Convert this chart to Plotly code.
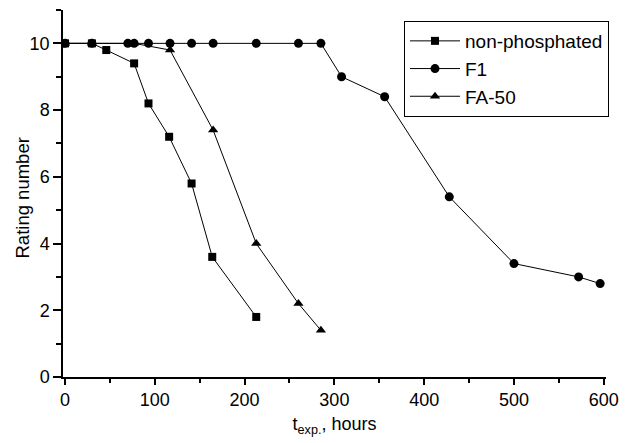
import plotly.graph_objects as go

np_x = [0, 30, 46, 77, 93, 116, 141, 164, 213]
np_y = [10, 10, 9.8, 9.4, 8.2, 7.2, 5.8, 3.6, 1.8]

f1_x = [0, 30, 70, 77, 93, 117, 141, 165, 213, 260, 285, 308, 356, 428, 500, 572, 596]
f1_y = [10, 10, 10, 10, 10, 10, 10, 10, 10, 10, 10, 9.0, 8.4, 5.4, 3.4, 3.0, 2.8]

fa_x = [0, 30, 77, 117, 165, 213, 260, 285]
fa_y = [10, 10, 10, 9.8, 7.4, 4.0, 2.2, 1.4]

names = ["non-phosphated", "F1", "FA-50"]
x_title = "t<sub>exp.</sub>, hours"
y_title = "Rating number"

fig = go.Figure()
fig.add_trace(go.Scatter(x=np_x, y=np_y, name=names[0], mode="lines+markers",
                         line=dict(color="black", width=1),
                         marker=dict(symbol="square", size=8, color="black")))
fig.add_trace(go.Scatter(x=f1_x, y=f1_y, name=names[1], mode="lines+markers",
                         line=dict(color="black", width=1),
                         marker=dict(symbol="circle", size=9, color="black")))
fig.add_trace(go.Scatter(x=fa_x, y=fa_y, name=names[2], mode="lines+markers",
                         line=dict(color="black", width=1),
                         marker=dict(symbol="triangle-up", size=9, color="black")))

axis_common = dict(showline=True, linecolor="black", linewidth=1.5, showgrid=False,
                   zeroline=False, ticks="outside", tickcolor="black",
                   tickwidth=1.5, tickfont=dict(size=18, color="black"))

fig.update_xaxes(range=[-2.2, 602.5], dtick=100, tick0=0, ticklen=6,
                 minor=dict(dtick=50, ticks="outside", ticklen=4, tickcolor="black", tickwidth=1.5),
                 title=dict(text=x_title, font=dict(size=18, color="black"), standoff=8),
                 **axis_common)
fig.update_yaxes(range=[0, 11], dtick=2, tick0=0, ticklen=8,
                 minor=dict(dtick=1, ticks="outside", ticklen=5, tickcolor="black", tickwidth=1.5),
                 **axis_common)

fig.add_annotation(text=y_title, xref="paper", yref="paper", x=0, y=0.5,
                   xanchor="center", yanchor="middle", xshift=-41, yshift=-5,
                   textangle=-90, showarrow=False, font=dict(size=18.5, color="black"))

fig.update_layout(
    width=628, height=443,
    margin=dict(l=63, r=22, t=10, b=66),
    plot_bgcolor="white", paper_bgcolor="white",
    font=dict(family="Liberation Sans, Arial, sans-serif", color="black"),
    legend=dict(x=0.628, y=0.97, xanchor="left", yanchor="top",
                bordercolor="black", borderwidth=1, bgcolor="white",
                font=dict(size=19, color="black"), tracegroupgap=0, itemwidth=50),
    showlegend=True,
)

fig.write_html("out.html")
